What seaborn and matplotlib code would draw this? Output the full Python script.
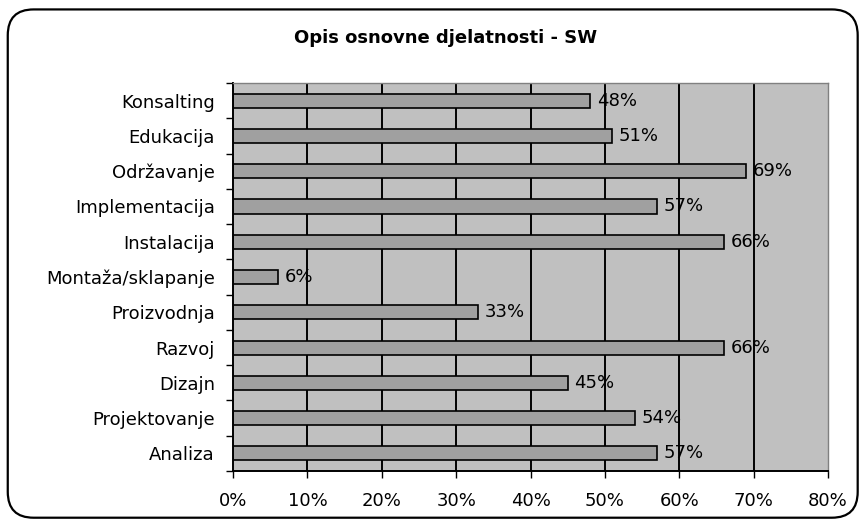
import seaborn as sns
import numpy as np
import pandas as pd
import matplotlib
matplotlib.use("Agg")
import matplotlib.pyplot as plt
from matplotlib.patches import FancyBboxPatch
from matplotlib.ticker import FixedLocator, FuncFormatter

# data
categories = ["Konsalting", "Edukacija", "Održavanje", "Implementacija", "Instalacija",
              "Montaža/sklapanje", "Proizvodnja", "Razvoj", "Dizajn", "Projektovanje", "Analiza"]
shares = [48, 51, 69, 57, 66, 6, 33, 66, 45, 54, 57]
x_ticks = [0, 10, 20, 30, 40, 50, 60, 70, 80]
title = "Opis osnovne djelatnosti - SW"

df = pd.DataFrame({"kategorija": categories, "udio": shares})

sns.set_theme(style="white")
plt.rcParams["font.family"] = ["DejaVu Sans"]
plt.rcParams["text.color"] = "black"
plt.rcParams["xtick.color"] = "black"
plt.rcParams["ytick.color"] = "black"
plt.rcParams["xtick.labelcolor"] = "black"
plt.rcParams["ytick.labelcolor"] = "black"

fig = plt.figure(figsize=(8.62, 5.24), dpi=100)
ax = fig.add_axes([0.2703, 0.1011, 0.6903, 0.7405])
ax.set_facecolor("#C0C0C0")

sns.barplot(data=df, x="udio", y="kategorija", orient="h", color="#A0A0A0",
            saturation=1, edgecolor="black", linewidth=1.2, width=0.4, ax=ax)

ax.set_xlim(0, 80)
ax.set_ylim(len(categories) - 0.5, -0.5)
ax.set_xticks(x_ticks)
ax.xaxis.set_major_formatter(FuncFormatter(lambda v, p: f"{int(v)}%"))
ax.set_axisbelow(True)
for v in x_ticks[1:-1]:
    ax.axvline(v, color="black", lw=1.4, zorder=0.5)

ax.set_xlabel("")
ax.set_ylabel("")
ax.tick_params(axis="x", direction="out", length=5, width=1, color="black",
               labelcolor="black", labelsize=13, pad=10, bottom=True)
ax.tick_params(axis="y", which="major", length=0, labelsize=13, pad=13,
               labelcolor="black")
ax.yaxis.set_minor_locator(FixedLocator(np.arange(-0.5, len(categories), 1)))
ax.tick_params(axis="y", which="minor", direction="out", length=5, width=1,
               color="black", left=True)

for s in ["left", "bottom"]:
    ax.spines[s].set_color("black")
    ax.spines[s].set_linewidth(1.4)
for s in ["top", "right"]:
    ax.spines[s].set_color("#808080")
    ax.spines[s].set_linewidth(1)

for i, v in enumerate(shares):
    ax.text(v + 0.9, i, f"{v}%", va="center", ha="left", fontsize=13, color="black")

fig.text(0.517, 0.927, title, ha="center", va="center", fontsize=13,
         fontweight="bold", color="black")

border = FancyBboxPatch((0.009, 0.012), 0.986, 0.97,
                        boxstyle="round,pad=0,rounding_size=0.03",
                        transform=fig.transFigure, fill=False, edgecolor="black",
                        linewidth=1.6, mutation_aspect=862 / 524)
fig.patches.append(border)

fig.savefig("out.png", dpi=100, facecolor="white")
